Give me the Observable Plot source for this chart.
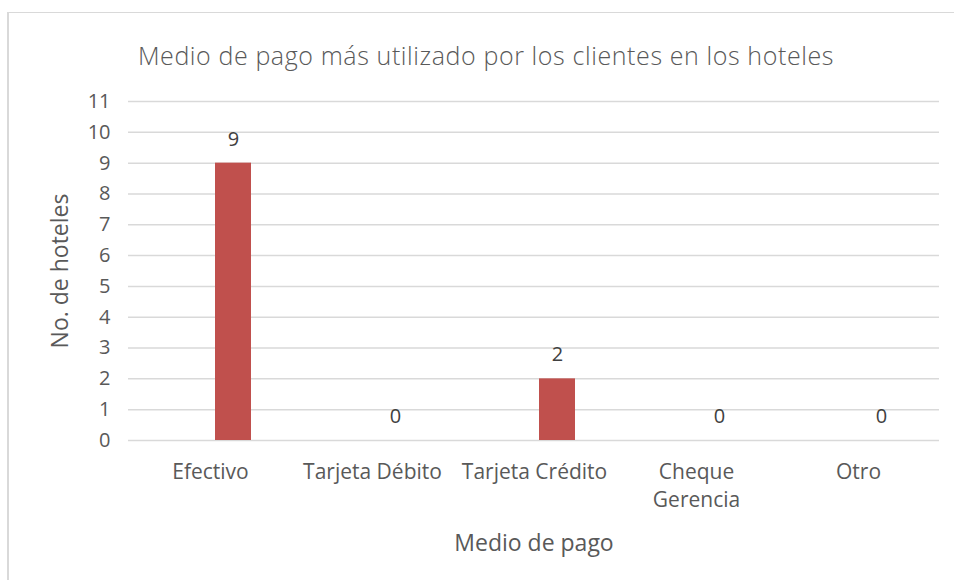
<!DOCTYPE html>
<html>
<head>
<meta charset="utf-8">
<script src="https://cdn.jsdelivr.net/npm/d3@7"></script>
<script src="https://cdn.jsdelivr.net/npm/@observablehq/plot@0.6"></script>
<style>
  html, body { margin: 0; padding: 0; background: #fff; }
  #wrap { position: relative; width: 954px; height: 580px; overflow: hidden; font-family: "Open Sans", sans-serif; }
  #frame { position: absolute; left: 7px; top: 12px; width: 960px; height: 600px; border-left: 2px solid #d9d9d9; border-top: 1px solid #d9d9d9; box-sizing: border-box; }
  #title { position: absolute; left: 0; width: 972px; top: 37px; height: 36px; line-height: 36px; text-align: center; font-size: 25px; font-weight: 300; letter-spacing: 0.6px; color: #595959; }
  #chart { position: absolute; left: 0; top: 80px; }
</style>
</head>
<body>
<div id="wrap">
  <div id="frame"></div>
  <div id="title">Medio de pago más utilizado por los clientes en los hoteles</div>
  <div id="chart"></div>
</div>
<script>
const categories = ["Efectivo", "Tarjeta Débito", "Tarjeta Crédito", "Cheque Gerencia", "Otro"];
const values = [9, 0, 2, 0, 0];
const yTicks = [0, 1, 2, 3, 4, 5, 6, 7, 8, 9, 10, 11];
const xTitle = "Medio de pago";
const yTitle = "No. de hoteles";

const data = categories.map((c, i) => ({ cat: c, val: values[i] }));
const textColor = "#595959";
const barShift = 23; // bars sit slightly right of the category centre, as in the original

const chart = Plot.plot({
  width: 954,
  height: 500,
  marginTop: 21,
  marginBottom: 140,
  marginLeft: 128,
  marginRight: 15,
  style: { fontFamily: "'Open Sans', sans-serif", color: textColor, background: "transparent" },
  x: { domain: categories, paddingInner: 0.778, paddingOuter: 0.389, align: 0.5 },
  y: { domain: [0, 11] },
  marks: [
    Plot.gridY(yTicks, { stroke: "#d9d9d9", strokeOpacity: 1, strokeWidth: 1.5 }),
    Plot.barY(data, { x: "cat", y: "val", fill: "#C0504D", dx: barShift }),
    Plot.text(data, { x: "cat", y: "val", text: d => String(d.val), dx: barShift, dy: -24, fontSize: 20, fill: "#404040" }),
    Plot.axisY({ ticks: yTicks, tickSize: 0, tickPadding: 18, fontSize: 20, label: null, fill: textColor }),
    Plot.axisX({ tickSize: 0, tickPadding: 19, fontSize: 21, lineHeight: 1.33, label: null, fill: textColor,
      tickFormat: d => d === "Cheque Gerencia" ? "Cheque\nGerencia" : d }),
    Plot.text([yTitle], { frameAnchor: "left", textAnchor: "middle", lineAnchor: "middle", text: d => d, rotate: -90, dx: -68, dy: 0, fontSize: 23, fill: textColor }),
    Plot.text([xTitle], { frameAnchor: "bottom", textAnchor: "middle", lineAnchor: "middle", text: d => d, dy: 103, fontSize: 23, fill: textColor })
  ]
});
document.getElementById("chart").appendChild(chart);
</script>
</body>
</html>
